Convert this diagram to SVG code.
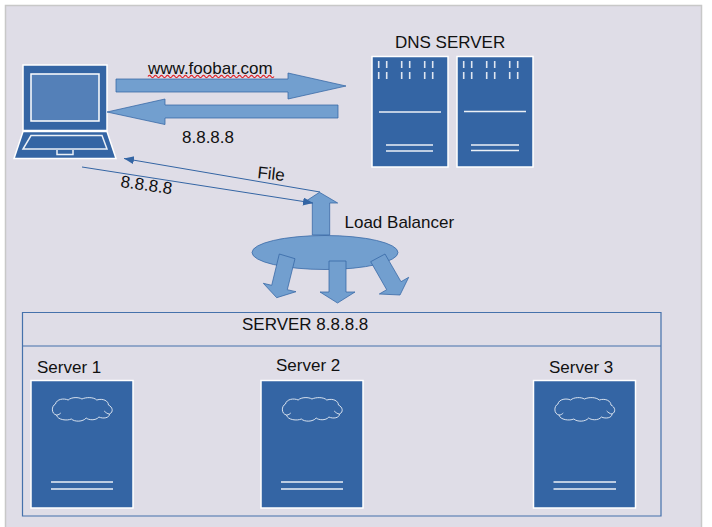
<svg xmlns="http://www.w3.org/2000/svg" width="712" height="527" viewBox="0 0 712 527">
<style>
text{font-family:"Liberation Sans",Arial,sans-serif;font-size:17px;fill:#111}
.blk{fill:#3465a4;stroke:#fff;stroke-width:1.5}
.wl{fill:none;stroke:#fff;stroke-width:1.5;opacity:.9}
.cl{fill:none;stroke:#e4eaf3;stroke-width:.9}
.tick{stroke:#dfe6f0;stroke-width:1.6;fill:none}
.arr{fill:#729fcf;stroke:#3465a4;stroke-width:1;stroke-opacity:.75}
.thin{fill:none;stroke:#3465a4;stroke-width:1;marker-end:url(#tip)}
.box{fill:none;stroke:#3465a4;stroke-width:1.2;stroke-opacity:.9}
</style>
<defs>
<marker id="tip" markerUnits="userSpaceOnUse" markerWidth="12" markerHeight="10" refX="10" refY="4" orient="auto"><path d="M0 0L10 4L0 8Z" fill="#3465a4"/></marker>
<g id="cloud"><path class="cl" d="M-26 -6C-25 -11 -18 -12 -14 -10C-11 -13 -4 -13 -1 -11C3 -13 10 -13 13 -10C19 -12 24 -9 24 -5C28 -3 29 2 25 4C25 8 19 9 15 7C12 11 5 10 3 8C0 12 -8 12 -11 9C-15 11 -24 10 -25 5C-30 4 -30 -4 -26 -6ZM25 4C23 4 21 2 20 1M-25 5C-23 5 -22 4 -21 3"/></g>
<g id="ticks"><path class="tick" d="M0 0v7M8 0v7M23 0v7M31 0v7M46 0v7M54 0v7M0 11v7M8 11v7M23 11v7M31 11v7M46 11v7M54 11v7"/></g>
</defs>
<rect x="5.500" y="5.500" width="696" height="530" fill="#dfdde7" stroke="#c8c8c8" stroke-width="1.500"/>

<g id="laptop">
<rect class="blk" x="23" y="65" width="84" height="65.500"/>
<rect x="31" y="74" width="68" height="47" fill="#5480b8" stroke="#fff" stroke-width="1.500"/>
<path class="blk" d="M23 131.500H107L116 158.500H14Z"/>
<path class="wl" d="M31 135.500H102L107 149H23Z"/>
<path class="wl" d="M57 150V154.500H73V150"/>
</g>

<g id="dns-server-1">
<rect class="blk" x="372" y="56.500" width="76" height="110.500"/>
<use href="#ticks" x="378.700" y="61"/>
<path class="wl" d="M379 112H441M386 145H433M386 151H433"/>
</g>
<g id="dns-server-2">
<rect class="blk" x="457" y="56.500" width="76" height="110.500"/>
<use href="#ticks" x="463.700" y="61"/>
<path class="wl" d="M464 111.500H526M471 145H519M471 150.500H519"/>
</g>
<text x="395" y="48">DNS SERVER</text>

<g id="load-balancer">
<ellipse class="arr" cx="325" cy="252.500" rx="73" ry="17"/>
<text x="344.500" y="228">Load Balancer</text>
</g>

<g id="connectors">
<path class="arr" d="M116 79H288V73L346 86L288 99V92H116Z"/>
<path class="arr" d="M338 105H165V99L107 112L165 124.500V118H338Z"/>
<path class="arr" d="M312.300 235V203H303L319.500 192.300L337.700 203H329.700V235Z"/>
<path class="arr" d="M279.300 254L295 258.700L287.300 289.700L296 291.700L276.700 297.700L263.300 283.300L271.700 285.300Z"/>
<path class="arr" d="M329 261H346V292H355L337.500 303L320 292H329Z"/>
<path class="arr" d="M370.700 261.700L385 254L401 281.700L408.700 277.300L400 295L379.300 294L386.700 289.700Z"/>
<path class="thin" d="M320 192L124 158.500"/>
<path class="thin" d="M82 167L313 203"/>
</g>

<path fill="none" stroke="#e0282e" stroke-width="1.200" d="M148 76.500q1.500-2.400 3-0t3 0t3 0t3 0t3 0t3 0t3 0t3 0t3 0t3 0t3 0t3 0t3 0t3 0t3 0t3 0t3 0t3 0t3 0t3 0t3 0t3 0t3 0t3 0t3 0t3 0t3 0t3 0t3 0t3 0t3 0t3 0t3 0t3 0t3 0t3 0t3 0t3 0t3 0t3 0t3 0t3 0"/>
<text x="148" y="74">www.foobar.com</text>
<text x="182" y="143">8.8.8.8</text>
<text x="257" y="178" transform="rotate(6 257 178)">File</text>
<text x="120" y="187" transform="rotate(8 120 187)">8.8.8.8</text>

<g id="server-cluster">
<path class="box" d="M22.500 312.500H661V516H22.500ZM22.500 346H661"/>
<text x="242" y="330">SERVER 8.8.8.8</text>
</g>

<g id="server-1">
<text x="37" y="373">Server 1</text>
<rect class="blk" x="31" y="380.500" width="102" height="127.500"/>
<use href="#cloud" transform="translate(83 410) scale(1.06 1)"/>
<path class="wl" d="M51 482H113M51 489H113"/>
</g>
<g id="server-2">
<text x="276" y="371">Server 2</text>
<rect class="blk" x="261" y="380.500" width="102" height="127.500"/>
<use href="#cloud" transform="translate(313 410) scale(1.06 1)"/>
<path class="wl" d="M281 482H343M281 489H343"/>
</g>
<g id="server-3">
<text x="549" y="373">Server 3</text>
<rect class="blk" x="533.500" y="380.500" width="102" height="127.500"/>
<use href="#cloud" transform="translate(585.500 410) scale(1.06 1)"/>
<path class="wl" d="M553.500 482H616M553.500 489H616"/>
</g>
</svg>
